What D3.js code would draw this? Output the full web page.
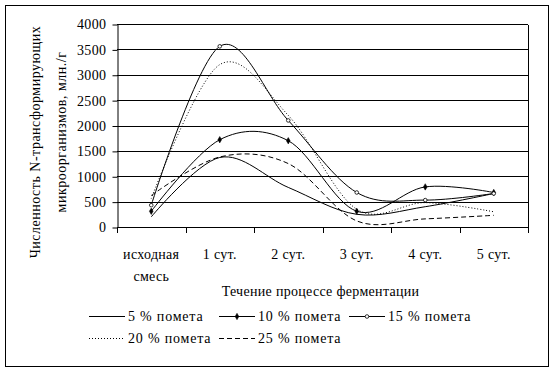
<!DOCTYPE html>
<html lang="ru">
<head>
<meta charset="UTF-8">
<title>Численность N-трансформирующих микроорганизмов</title>
<script src="https://d3js.org/d3.v7.min.js"></script>
<style>
  body { margin: 0; background: #fff; }
  svg { display: block; }
  text { fill: #000; font-family: "Liberation Serif", "Times New Roman", serif; }
</style>
</head>
<body>
<svg width="555" height="372"></svg>
<script>
  // categories on the x axis (first one is split on two lines)
  const categories = ["исходная смесь", "1 сут.", "2 сут.", "3 сут.", "4 сут.", "5 сут."];
  const yTicks = [0, 500, 1000, 1500, 2000, 2500, 3000, 3500, 4000];

  // values, млн./г
  const pomet5 = [200, 1370, 780, 250, 400, 660];
  const pomet10 = [310, 1720, 1700, 310, 790, 680];
  const pomet15 = [430, 3560, 2100, 680, 530, 660];
  const pomet20 = [560, 3200, 2200, 350, 480, 300];
  const pomet25 = [620, 1380, 1250, 120, 160, 230];

  const seriesNames = ["5 % помета", "10 % помета", "15 % помета", "20 % помета", "25 % помета"];

  const series = [
    { name: seriesNames[0], values: pomet5, dash: null, marker: null },
    { name: seriesNames[1], values: pomet10, dash: null, marker: "diamond" },
    { name: seriesNames[2], values: pomet15, dash: null, marker: "circle" },
    { name: seriesNames[3], values: pomet20, dash: "1,2", marker: null },
    { name: seriesNames[4], values: pomet25, dash: "5,3", marker: null }
  ];

  const svg = d3.select("svg");
  const plot = { left: 117, right: 528, top: 24, bottom: 227 };

  // outer frame
  svg.append("rect")
    .attr("x", 5.5).attr("y", 5.5)
    .attr("width", 543).attr("height", 361)
    .attr("fill", "none").attr("stroke", "#000");

  const x = d3.scaleBand().domain(categories).range([plot.left, plot.right]);
  const y = d3.scaleLinear().domain([0, 4000]).range([plot.bottom, plot.top]);

  // gridlines
  svg.append("g")
    .selectAll("line")
    .data(yTicks.filter(d => d > 0))
    .enter().append("line")
    .attr("x1", plot.left).attr("x2", plot.right)
    .attr("y1", d => Math.round(y(d)) + 0.5).attr("y2", d => Math.round(y(d)) + 0.5)
    .attr("stroke", "#000").attr("shape-rendering", "crispEdges");

  // right border of plot area
  svg.append("line")
    .attr("x1", plot.right + 0.5).attr("x2", plot.right + 0.5)
    .attr("y1", Math.round(y(4000)) + 0.5).attr("y2", plot.bottom + 0.5)
    .attr("stroke", "#000").attr("shape-rendering", "crispEdges");

  // y axis
  const yAxis = svg.append("g")
    .attr("transform", `translate(${plot.left + 0.5},0.5)`)
    .call(d3.axisLeft(y).tickValues(yTicks).tickFormat(d3.format("d"))
      .tickSize(5).tickPadding(6).tickSizeOuter(0));
  yAxis.attr("font-size", 14);
  yAxis.select(".domain").attr("stroke", "#000");
  yAxis.selectAll("line").attr("stroke", "#000");
  yAxis.selectAll("text").attr("fill", "#000").style("letter-spacing", "0.4px");

  // x axis: ticks on category boundaries
  const xAxisG = svg.append("g").attr("transform", `translate(0,${plot.bottom + 0.5})`);
  xAxisG.append("line")
    .attr("x1", plot.left).attr("x2", plot.right + 1)
    .attr("stroke", "#000").attr("shape-rendering", "crispEdges");
  const bounds = categories.map(c => x(c)).concat([x.range()[1]]);
  xAxisG.selectAll(".tick")
    .data(bounds)
    .enter().append("line")
    .attr("x1", d => Math.round(d) + 0.5).attr("x2", d => Math.round(d) + 0.5)
    .attr("y1", 0).attr("y2", 5)
    .attr("stroke", "#000").attr("shape-rendering", "crispEdges");

  xAxisG.selectAll(".lab")
    .data(categories)
    .enter().append("text")
    .attr("text-anchor", "middle")
    .attr("font-size", "14px")
    .style("letter-spacing", "0.3px")
    .attr("x", d => x(d) + x.bandwidth() / 2)
    .attr("y", 31)
    .each(function (d) {
      const parts = d.split(" ");
      const t = d3.select(this);
      if (parts.length > 1 && parts[1] !== "сут.") {
        t.append("tspan").attr("x", x(d) + x.bandwidth() / 2).text(parts[0]);
        t.append("tspan").attr("x", x(d) + x.bandwidth() / 2).attr("dy", 22).text(parts[1]);
      } else {
        t.text(d);
      }
    });

  // axis titles
  svg.append("text")
    .attr("x", (plot.left + plot.right) / 2 - 2)
    .attr("y", 296)
    .attr("text-anchor", "middle")
    .attr("font-size", "14px")
    .style("letter-spacing", "0.3px")
    .text("Течение процессе ферментации");

  svg.append("text")
    .attr("transform", "translate(40,142) rotate(-90)")
    .attr("text-anchor", "middle")
    .attr("font-size", "14px")
    .style("letter-spacing", "0.5px")
    .text("Численность N-трансформирующих");
  svg.append("text")
    .attr("transform", "translate(66,132) rotate(-90)")
    .attr("text-anchor", "middle")
    .attr("font-size", "14px")
    .style("letter-spacing", "0.5px")
    .text("микроорганизмов, млн./г");

  // lines
  const line = d3.line()
    .x((d, i) => x(categories[i]) + x.bandwidth() / 2)
    .y(d => y(d))
    .curve(d3.curveCardinal.tension(0));

  const diamond = d3.symbol().type(d3.symbolDiamond).size(12);

  function drawMarker(g, kind, cx, cy) {
    if (kind === "diamond") {
      g.append("path").attr("d", diamond()).attr("transform", `translate(${cx},${cy})`)
        .attr("fill", "#000").attr("stroke", "#000").attr("stroke-width", 0.5);
    } else if (kind === "circle") {
      g.append("circle").attr("cx", cx).attr("cy", cy).attr("r", 1.8)
        .attr("fill", "#fff").attr("stroke", "#000").attr("stroke-width", 0.8);
    }
  }

  series.forEach(s => {
    const g = svg.append("g");
    g.append("path")
      .attr("d", line(s.values))
      .attr("fill", "none")
      .attr("stroke", "#000")
      .attr("stroke-width", 1)
      .attr("stroke-dasharray", s.dash);
    if (s.marker) {
      s.values.forEach((v, i) => drawMarker(g, s.marker, x(categories[i]) + x.bandwidth() / 2, y(v)));
    }
  });

  // legend, 3 entries per row on an even grid
  const legend = svg.append("g");
  const rowY = [316, 338];
  const entryWidth = 130;
  series.forEach((s, i) => {
    const yy = rowY[Math.floor(i / 3)];
    const x0 = 89 + (i % 3) * entryWidth;
    const g = legend.append("g");
    g.append("line")
      .attr("x1", x0).attr("x2", x0 + 36)
      .attr("y1", yy + 0.5).attr("y2", yy + 0.5)
      .attr("stroke", "#000").attr("stroke-dasharray", s.dash);
    drawMarker(g, s.marker, x0 + 18, yy + 0.5);
    g.append("text")
      .attr("x", x0 + 39).attr("y", yy + 5)
      .attr("font-size", "14px")
      .style("letter-spacing", "0.8px")
      .text(s.name);
  });
</script>
</body>
</html>
